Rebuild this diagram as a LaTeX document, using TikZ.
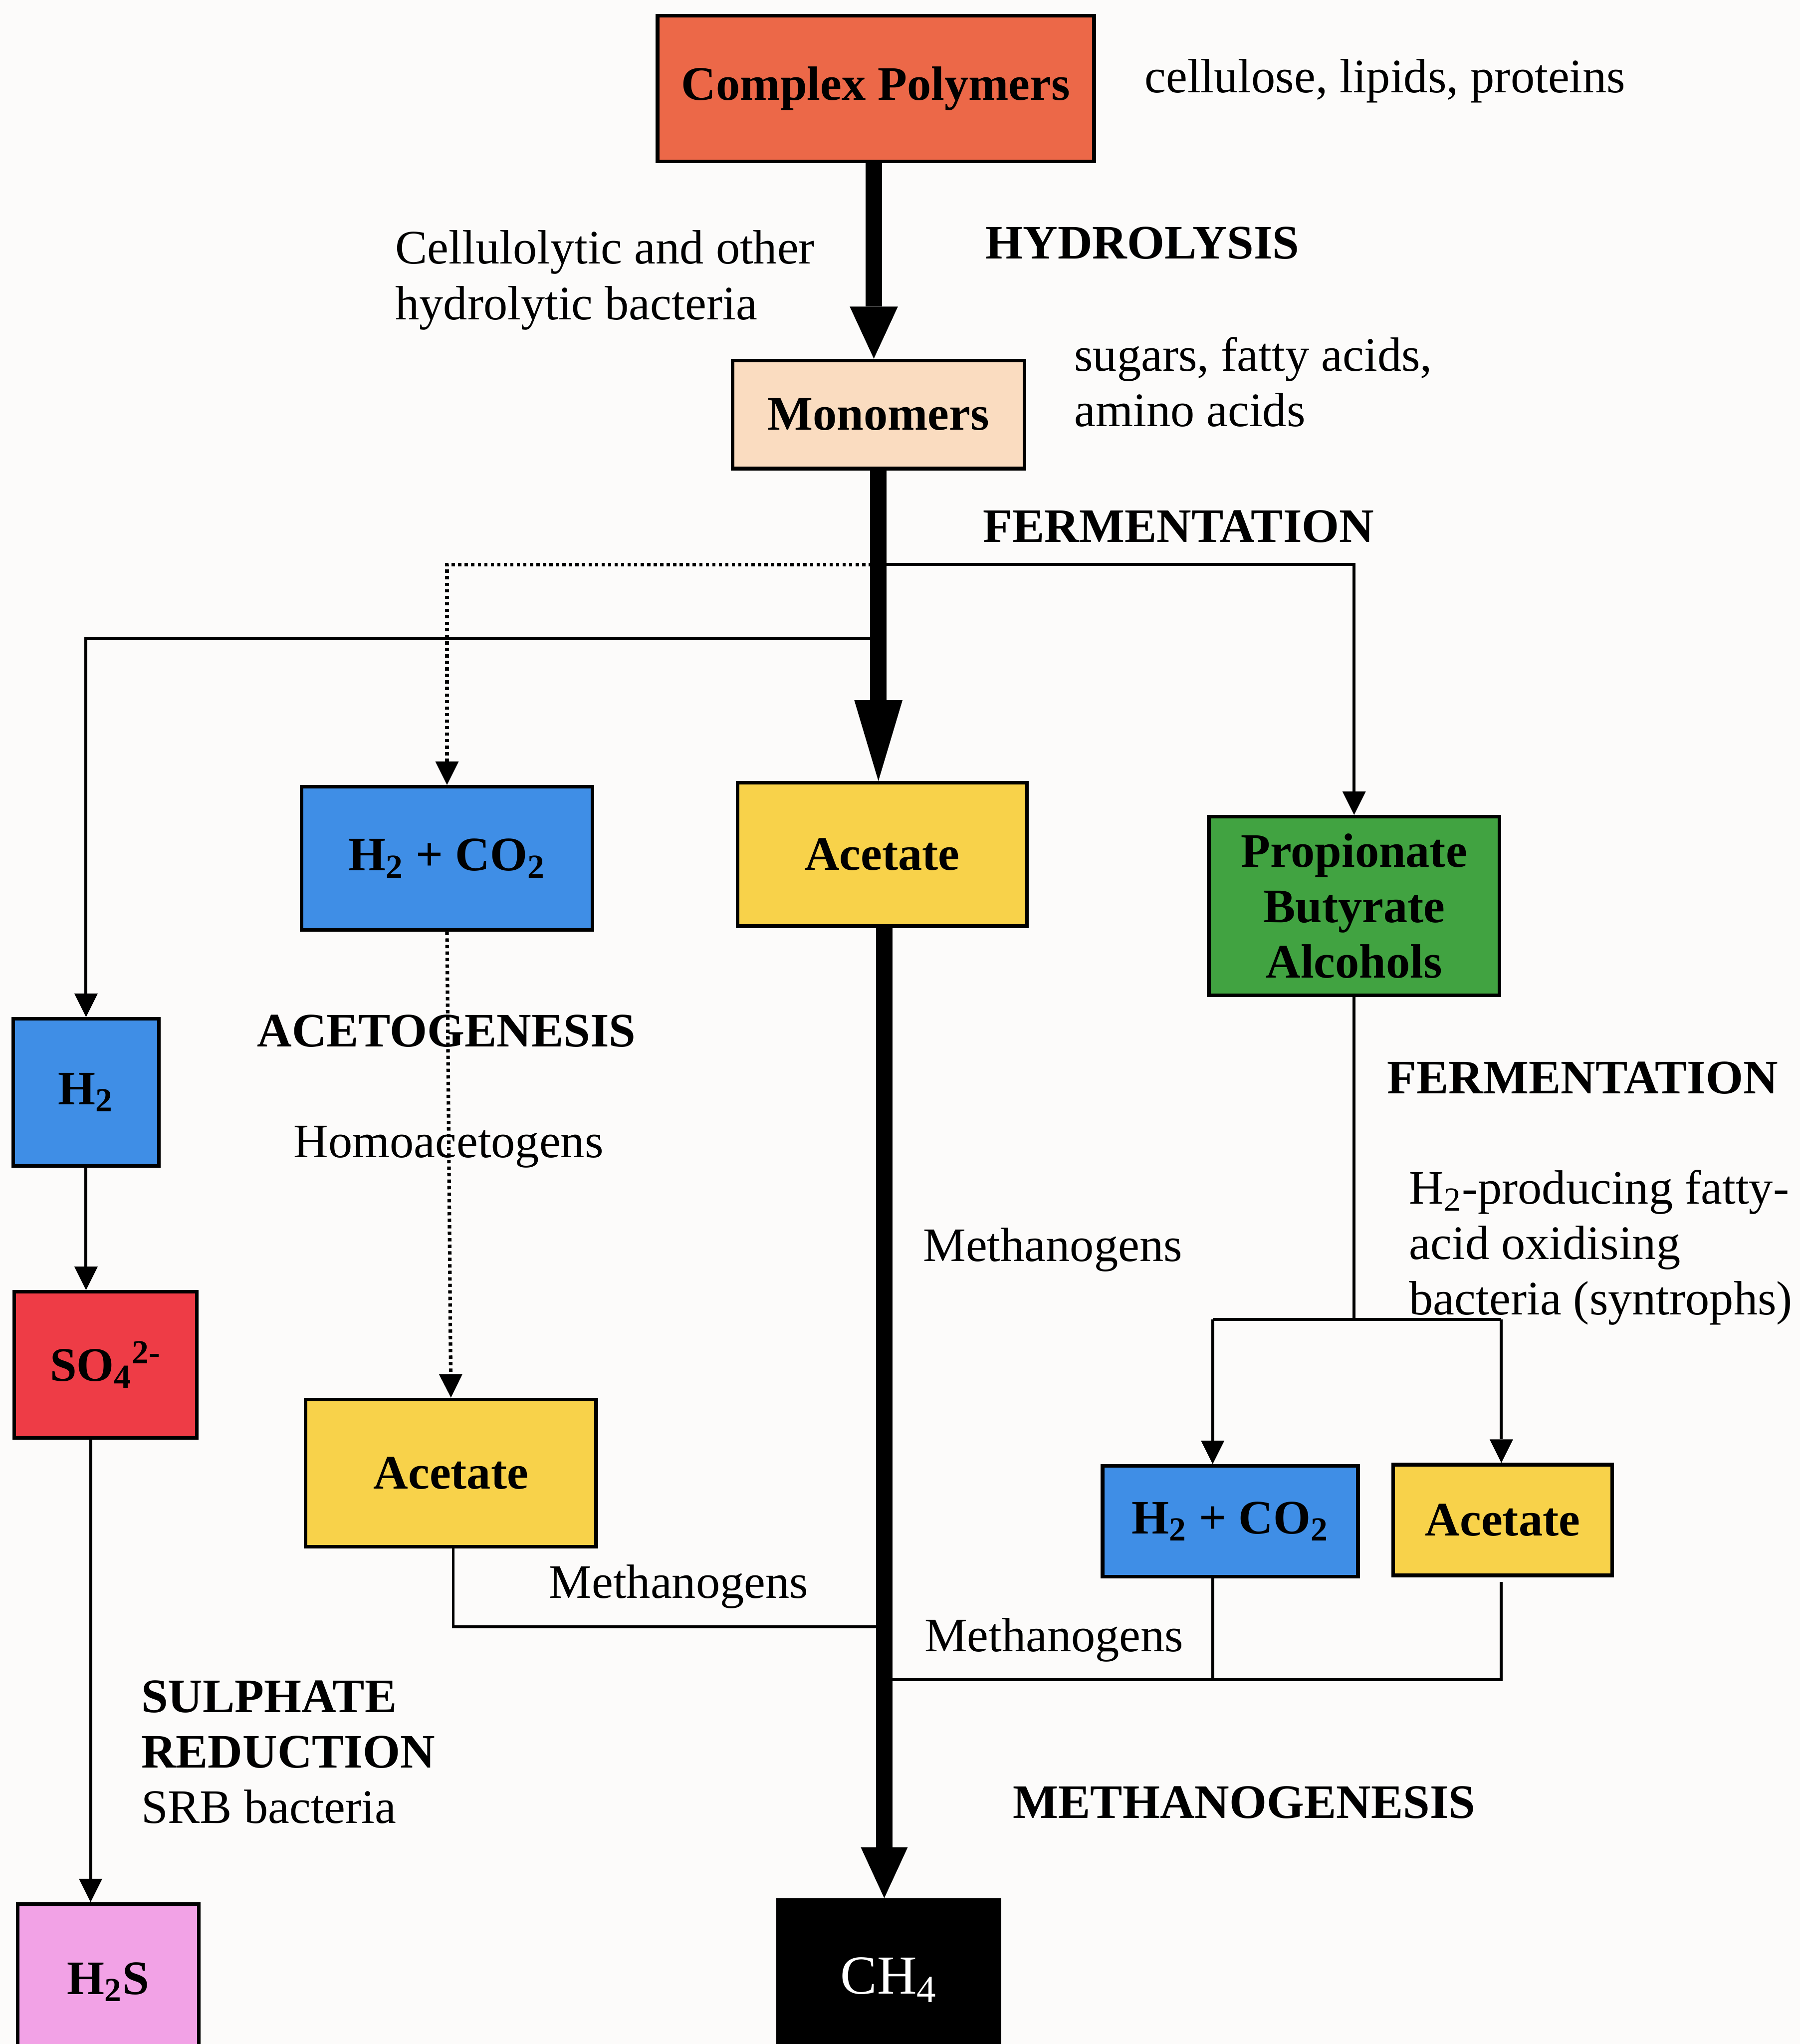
\documentclass[tikz,border=0pt]{standalone}
\usepackage{fontspec}
\setmainfont{Liberation Serif}
\usetikzlibrary{arrows.meta}
\definecolor{bgc}{RGB}{252,251,250}
\definecolor{cpc}{RGB}{236,104,72}
\definecolor{monoc}{RGB}{250,220,192}
\definecolor{bluec}{RGB}{63,142,230}
\definecolor{yelc}{RGB}{248,210,74}
\definecolor{grnc}{RGB}{65,163,65}
\definecolor{redc}{RGB}{238,60,70}
\definecolor{pinkc}{RGB}{242,162,230}
\begin{document}
\begin{tikzpicture}[x=0.02cm,y=-0.02cm,
  font=\fontsize{21}{24.2}\selectfont,
  box/.style={draw=black, line width=0.055cm, inner sep=0pt, align=center,
    font=\fontsize{21}{24.2}\selectfont\bfseries},
  lbl/.style={inner sep=0pt, anchor=base west, align=left},
  blbl/.style={lbl, font=\fontsize{21}{24.2}\selectfont\bfseries},
  thinline/.style={line width=0.045cm, draw=black},
  tarrow/.style={thinline, -{Triangle[width=0.36cm,length=0.36cm,line width=0pt]}},
  dotline/.style={line width=0.055cm, draw=black, dash pattern=on 0.05cm off 0.05cm},
  darrow/.style={dotline, -{Triangle[width=0.36cm,length=0.36cm,line width=0pt]}},
  bigline/.style={line width=0.25cm, draw=black},
]
\fill[bgc] (0,0) rectangle (1381,1568);
\useasboundingbox (0,0) rectangle (1381,1568);
\clip (0,0) rectangle (1381,1568);

% boxes
\node[box, fill=cpc, minimum width=6.70cm, minimum height=2.24cm] (CP) at (672,68) {Complex Polymers};
\node[box, fill=monoc, minimum width=4.48cm, minimum height=1.66cm] (Mono) at (674,318) {Monomers};
\node[box, fill=bluec, minimum width=4.46cm, minimum height=2.20cm] (HCa) at (343,658.5) {H\textsubscript{2} + CO\textsubscript{2}};
\node[box, fill=yelc, minimum width=4.44cm, minimum height=2.20cm] (AcA) at (677,655.5) {Acetate};
\node[box, fill=grnc, minimum width=4.46cm, minimum height=2.74cm] (Prop) at (1039,695) {Propionate\\Butyrate\\Alcohols};
\node[box, fill=bluec, minimum width=2.24cm, minimum height=2.26cm] (H2) at (66,838) {H\textsubscript{2}};
\node[box, fill=redc, minimum width=2.80cm, minimum height=2.24cm] (SO4) at (81,1047) {SO\textsubscript{4}\textsuperscript{2-}};
\node[box, fill=yelc, minimum width=4.46cm, minimum height=2.26cm] (AcB) at (346,1130) {Acetate};
\node[box, fill=bluec, minimum width=3.92cm, minimum height=1.70cm] (HCb) at (944,1167) {H\textsubscript{2} + CO\textsubscript{2}};
\node[box, fill=yelc, minimum width=3.36cm, minimum height=1.70cm] (AcC) at (1153,1166) {Acetate};
\node[box, fill=pinkc, minimum width=2.78cm, minimum height=2.39cm] (H2S) at (83,1520.3) {H\textsubscript{2}S};
\node[box, fill=black, text=white, font=\fontsize{24}{28}\selectfont, minimum width=3.40cm, minimum height=2.45cm] (CH4) at (682,1518.7) {CH\textsubscript{4}};

% junction coordinates
\coordinate (jd) at (674,433);
\coordinate (jl) at (674,490);
\coordinate (jr) at (674,433);
\coordinate (dl) at (343,433);
\coordinate (ll) at (66,490);
\coordinate (rr) at (1039,433);
\coordinate (split) at (1039,1012);
\coordinate (sl) at (930.5,1012);
\coordinate (sr) at (1152,1012);
\coordinate (mb) at (678,1248);
\coordinate (mc) at (679,1288.5);

% thin connectors
\draw[darrow] (jd) -- (dl) -- (HCa.north);
\draw[darrow] (HCa.south) -- (AcB.north);
\draw[tarrow] (jl) -- (ll) -- (H2.north);
\draw[tarrow] (jr) -- (rr) -- (Prop.north);
\draw[tarrow] (H2.south) -- (H2.south |- SO4.north);
\draw[tarrow] ([xshift=2]H2.south |- SO4.south) -- ([xshift=2]H2.south |- H2S.north);
\draw[thinline] (Prop.south) -- (split);
\draw[thinline] (sl) -- (sr);
\draw[tarrow] (sl) -- (sl |- HCb.north);
\draw[tarrow] (sr) -- (sr |- AcC.north);
\draw[thinline] ([xshift=1]AcB.south) |- (mb);
\draw[thinline] (sl |- HCb.south) -- (sl |- mc);
\draw[thinline] ([yshift=-2]sr |- AcC.south) |- (mc);

% thick arrows
\draw[bigline, -{Triangle[width=0.74cm,length=0.8cm,line width=0pt]}] (CP.south -| 670.5,0) -- (Mono.north -| 670.5,0);
\draw[bigline, -{Triangle[width=0.74cm,length=1.24cm,line width=0pt]}] (Mono.south) -- (Mono.south |- AcA.north);
\draw[bigline, -{Triangle[width=0.72cm,length=0.78cm,line width=0pt]}] (AcA.south -| 678.5,0) -- (CH4.north -| 678.5,0);

% labels (multi-line labels: base = baseline of last line)
\node[lbl] (tcp) at (878,71) {cellulose, lipids, proteins};
\node[lbl] (thb) at (303,245) {Cellulolytic and other\\hydrolytic bacteria};
\node[blbl] (thy) at (756,198.5) {HYDROLYSIS};
\node[lbl] (tsu) at (824,327) {sugars, fatty acids,\\amino acids};
\node[blbl] (tf1) at (754,416) {FERMENTATION};
\node[blbl] (tac) at (197,803) {ACETOGENESIS};
\node[lbl] (tho) at (225,888) {Homoacetogens};
\node[blbl] (tf2) at (1064,839) {FERMENTATION};
\node[lbl] (tsy) at (1081,1008.6) {H\textsubscript{2}-producing fatty-\\acid oxidising\\bacteria (syntrophs)};
\node[lbl] (tm1) at (708,967.6) {Methanogens};
\node[lbl] (tm2) at (421,1226) {Methanogens};
\node[lbl] (tm3) at (709,1266.8) {Methanogens};
\node[lbl] (tsr) at (108,1398.6) {\textbf{SULPHATE}\\\textbf{REDUCTION}\\SRB bacteria};
\node[blbl] (tme) at (777,1394.7) {METHANOGENESIS};
\end{tikzpicture}
\end{document}
